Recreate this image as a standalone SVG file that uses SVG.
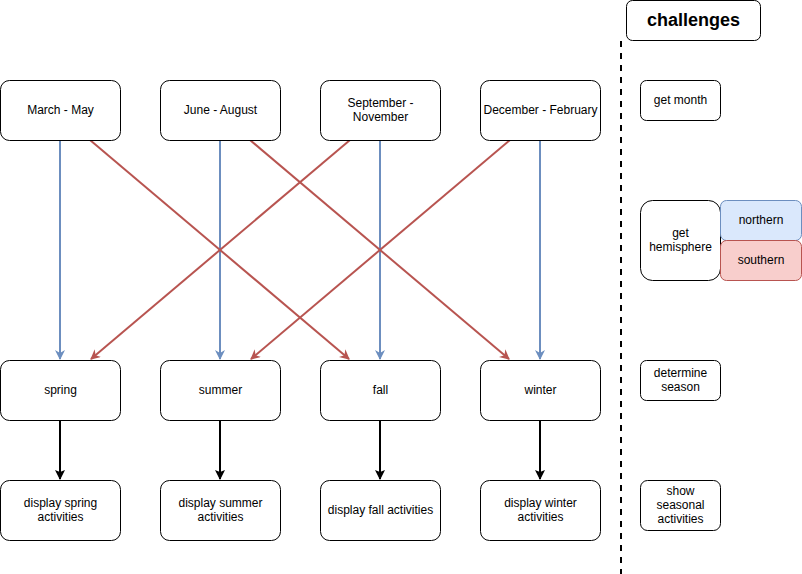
<svg xmlns="http://www.w3.org/2000/svg" width="802" height="574" viewBox="0 0 802 574">
<defs>
<style>
.n{fill:#fff;stroke:#000;stroke-width:1}
.t{font-family:"Liberation Sans",Arial,sans-serif;font-size:12px;fill:#000;text-anchor:middle}
.b{stroke:#6c8ebf;stroke-width:2;fill:none}
.r{stroke:#b85450;stroke-width:2;fill:none}
.k{stroke:#000;stroke-width:2;fill:none}
</style>
<marker id="ab" viewBox="0 0 10 10" refX="9" refY="5" markerWidth="11" markerHeight="10" markerUnits="userSpaceOnUse" orient="auto"><path d="M0,0 L10,5 L0,10 L3,5 Z" fill="#6c8ebf"/></marker>
<marker id="ar" viewBox="0 0 10 10" refX="9" refY="5" markerWidth="11" markerHeight="10" markerUnits="userSpaceOnUse" orient="auto"><path d="M0,0 L10,5 L0,10 L3,5 Z" fill="#b85450"/></marker>
<marker id="ak" viewBox="0 0 10 10" refX="9" refY="5" markerWidth="10" markerHeight="10" markerUnits="userSpaceOnUse" orient="auto"><path d="M0,0 L10,5 L0,10 L2,5 Z" fill="#000"/></marker>
</defs>
<rect width="802" height="574" fill="#fff"/>
<g id="connectors">
<line class="b" x1="60" y1="140" x2="60" y2="359" marker-end="url(#ab)"/>
<line class="b" x1="220" y1="140" x2="220" y2="359" marker-end="url(#ab)"/>
<line class="b" x1="380" y1="140" x2="380" y2="359" marker-end="url(#ab)"/>
<line class="b" x1="540" y1="140" x2="540" y2="359" marker-end="url(#ab)"/>
<line class="r" x1="90" y1="140" x2="349" y2="359" marker-end="url(#ar)"/>
<line class="r" x1="250" y1="140" x2="509" y2="359" marker-end="url(#ar)"/>
<line class="r" x1="350" y1="140" x2="91" y2="359" marker-end="url(#ar)"/>
<line class="r" x1="510" y1="140" x2="251" y2="359" marker-end="url(#ar)"/>
<line class="k" x1="60" y1="420" x2="60" y2="479" marker-end="url(#ak)"/>
<line class="k" x1="220" y1="420" x2="220" y2="479" marker-end="url(#ak)"/>
<line class="k" x1="380" y1="420" x2="380" y2="479" marker-end="url(#ak)"/>
<line class="k" x1="540" y1="420" x2="540" y2="479" marker-end="url(#ak)"/>
<line x1="621" y1="41" x2="621" y2="574" stroke="#000" stroke-width="2" stroke-dasharray="6,6"/>
</g>
<g id="n-mar"><rect class="n" x="0.5" y="80.5" width="120" height="60" rx="9"/><text class="t" x="60.5" y="113.5">March - May</text></g>
<g id="n-jun"><rect class="n" x="160.5" y="80.5" width="120" height="60" rx="9"/><text class="t" x="220.5" y="113.5">June - August</text></g>
<g id="n-sep"><rect class="n" x="320.5" y="80.5" width="120" height="60" rx="9"/><text class="t" x="380.5" y="106.5">September -</text><text class="t" x="380.5" y="120.5">November</text></g>
<g id="n-dec"><rect class="n" x="480.5" y="80.5" width="120" height="60" rx="9"/><text class="t" x="540.5" y="113.5">December - February</text></g>
<g id="n-spring"><rect class="n" x="0.5" y="360.5" width="120" height="60" rx="9"/><text class="t" x="60.5" y="393.5">spring</text></g>
<g id="n-summer"><rect class="n" x="160.5" y="360.5" width="120" height="60" rx="9"/><text class="t" x="220.5" y="393.5">summer</text></g>
<g id="n-fall"><rect class="n" x="320.5" y="360.5" width="120" height="60" rx="9"/><text class="t" x="380.5" y="393.5">fall</text></g>
<g id="n-winter"><rect class="n" x="480.5" y="360.5" width="120" height="60" rx="9"/><text class="t" x="540.5" y="393.5">winter</text></g>
<g id="n-dspring"><rect class="n" x="0.5" y="480.5" width="120" height="60" rx="9"/><text class="t" x="60.5" y="506.5">display spring</text><text class="t" x="60.5" y="520.5">activities</text></g>
<g id="n-dsummer"><rect class="n" x="160.5" y="480.5" width="120" height="60" rx="9"/><text class="t" x="220.5" y="506.5">display summer</text><text class="t" x="220.5" y="520.5">activities</text></g>
<g id="n-dfall"><rect class="n" x="320.5" y="480.5" width="120" height="60" rx="9"/><text class="t" x="380.5" y="513.5">display fall activities</text></g>
<g id="n-dwinter"><rect class="n" x="480.5" y="480.5" width="120" height="60" rx="9"/><text class="t" x="540.5" y="506.5">display winter</text><text class="t" x="540.5" y="520.5">activities</text></g>
<g id="n-challenges"><rect class="n" x="626.5" y="0.5" width="134" height="40" rx="6"/><text x="693.5" y="26" font-family="'Liberation Sans',Arial,sans-serif" font-size="18" font-weight="bold" text-anchor="middle" fill="#000">challenges</text></g>
<g id="n-getmonth"><rect class="n" x="640.5" y="80.5" width="80" height="40" rx="6"/><text class="t" x="680.5" y="103.5">get month</text></g>
<g id="n-hemi"><rect class="n" x="640.5" y="200.5" width="80" height="80" rx="12"/><text class="t" x="680.5" y="236.5">get</text><text class="t" x="680.5" y="250.5">hemisphere</text></g>
<g id="n-north"><rect x="720.5" y="200.5" width="81" height="40" rx="6" fill="#dae8fc" stroke="#6c8ebf"/><text class="t" x="761" y="223.5">northern</text></g>
<g id="n-south"><rect x="720.5" y="240.5" width="81" height="40" rx="6" fill="#f8cecc" stroke="#b85450"/><text class="t" x="761" y="263.5">southern</text></g>
<g id="n-determine"><rect class="n" x="640.5" y="360.5" width="80" height="40" rx="6"/><text class="t" x="680.5" y="376.5">determine</text><text class="t" x="680.5" y="390.5">season</text></g>
<g id="n-show"><rect class="n" x="640.5" y="480.5" width="80" height="50" rx="7"/><text class="t" x="680.5" y="494.5">show</text><text class="t" x="680.5" y="508.5">seasonal</text><text class="t" x="680.5" y="522.5">activities</text></g>
</svg>
